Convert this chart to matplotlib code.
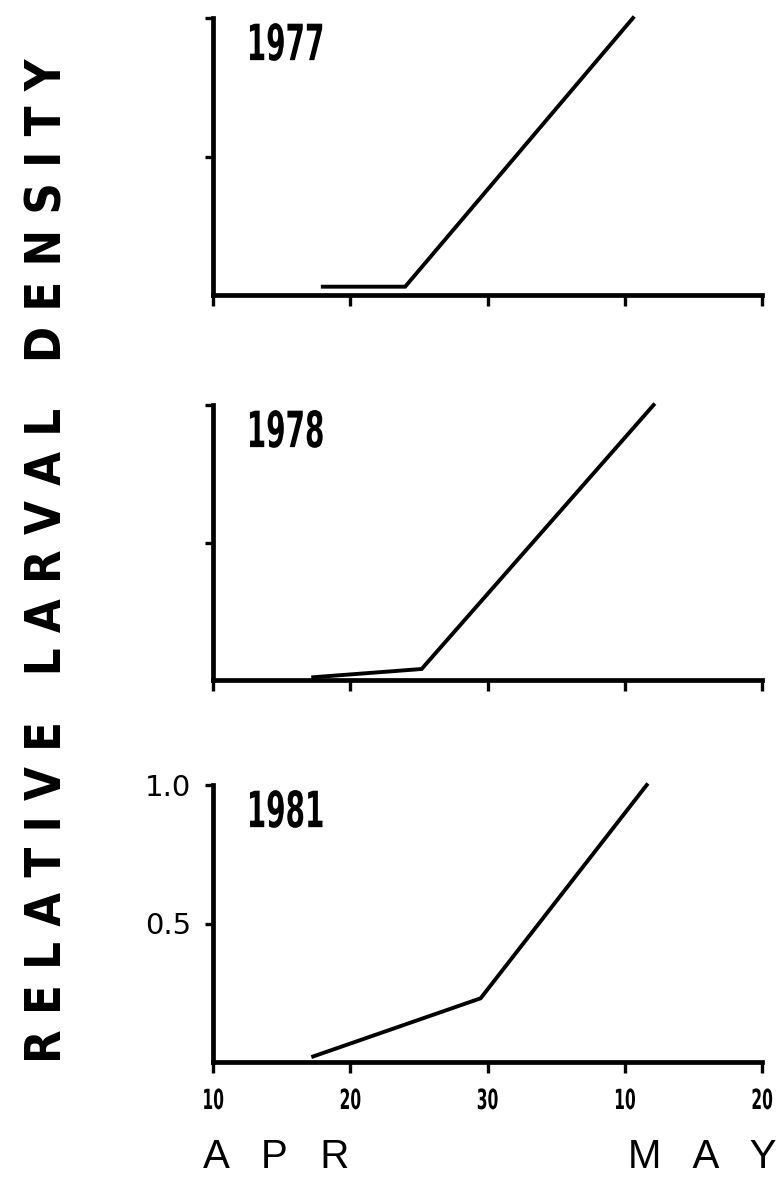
import matplotlib
matplotlib.use("Agg")
import matplotlib.pyplot as plt
from matplotlib.patheffects import AbstractPathEffect
from matplotlib.transforms import Affine2D

# Sampling day, counted from 1 April (31 = 1 May), and relative larval density
years = ["1977", "1978", "1981"]
days_1977 = [18.0, 24.0, 40.6]
dens_1977 = [0.03, 0.03, 1.0]
days_1978 = [17.3, 25.2, 42.1]
dens_1978 = [0.01, 0.04, 1.0]
days_1981 = [17.3, 29.5, 41.6]
dens_1981 = [0.02, 0.23, 1.0]

x_ticks = [10, 20, 30, 40, 50]
x_tick_labels = ["10", "20", "30", "10", "20"]
y_ticks = [0.5, 1.0]
y_tick_labels = ["0.5", "1.0"]

series = [(days_1977, dens_1977), (days_1978, dens_1978), (days_1981, dens_1981)]


class Squeeze(AbstractPathEffect):
    """Narrow the glyphs along the baseline, like a compressed typeface."""

    def __init__(self, sx, anchor="center"):
        super().__init__()
        self.sx = sx
        self.anchor = anchor

    def draw_path(self, renderer, gc, tpath, affine, rgbFace=None):
        ext = tpath.get_extents()
        cx = ext.x0 if self.anchor == "left" else 0.5 * (ext.x0 + ext.x1)
        squeeze = Affine2D().translate(-cx, 0).scale(self.sx, 1).translate(cx, 0)
        renderer.draw_path(gc, tpath, squeeze + affine, rgbFace)


W, H = 778, 1178
fig = plt.figure(figsize=(W / 100, H / 100), dpi=100)
fig.patch.set_facecolor("white")

cond = dict(fontfamily="DejaVu Sans", fontstretch="condensed", fontweight="bold")

left_px, right_px = 213, 762
panel_px = [(18, 295), (405, 680), (785, 1062)]

for i, ((top, bot), (xd, yd), yr) in enumerate(zip(panel_px, series, years)):
    ax = fig.add_axes([left_px / W, 1 - bot / H, (right_px - left_px) / W, (bot - top) / H])
    ax.plot(xd, yd, color="black", lw=2.8, solid_joinstyle="miter", clip_on=False)
    ax.set_xlim(10, 50)
    ax.set_ylim(0, 1)
    for s in ("top", "right"):
        ax.spines[s].set_visible(False)
    for s in ("left", "bottom"):
        ax.spines[s].set_linewidth(3.4)
        ax.spines[s].set_capstyle("projecting")
    ax.set_xticks(x_ticks)
    ax.set_yticks(y_ticks)
    ax.tick_params(axis="x", direction="out", length=8, width=2.4, pad=10)
    ax.tick_params(axis="y", direction="out", length=6, width=2.4, pad=10)
    if i == 2:
        ax.set_xticklabels(x_tick_labels, fontsize=20, **cond)
        for lab in ax.get_xticklabels():
            lab.set_path_effects([Squeeze(0.62)])
        ax.set_yticklabels(y_tick_labels, fontfamily="DejaVu Sans", fontsize=21)
    else:
        ax.set_xticklabels([])
        ax.set_yticklabels([])
    ax.text(0.058, 0.985, yr, transform=ax.transAxes, ha="left", va="top",
            fontsize=36, path_effects=[Squeeze(0.62, anchor="left")], **cond)

fig.text(48 / W, 1 - 561 / H, "R E L A T I V E   L A R V A L   D E N S I T Y",
         rotation=90, ha="center", va="center", fontsize=35, **cond)

fig.text(203 / W, 1 - 1157 / H, "A   P   R", ha="left", va="center",
         fontfamily="Liberation Sans", fontsize=29)
fig.text(777 / W, 1 - 1157 / H, "M   A   Y", ha="right", va="center",
         fontfamily="Liberation Sans", fontsize=29)

fig.savefig("out.png", dpi=100, facecolor="white")
